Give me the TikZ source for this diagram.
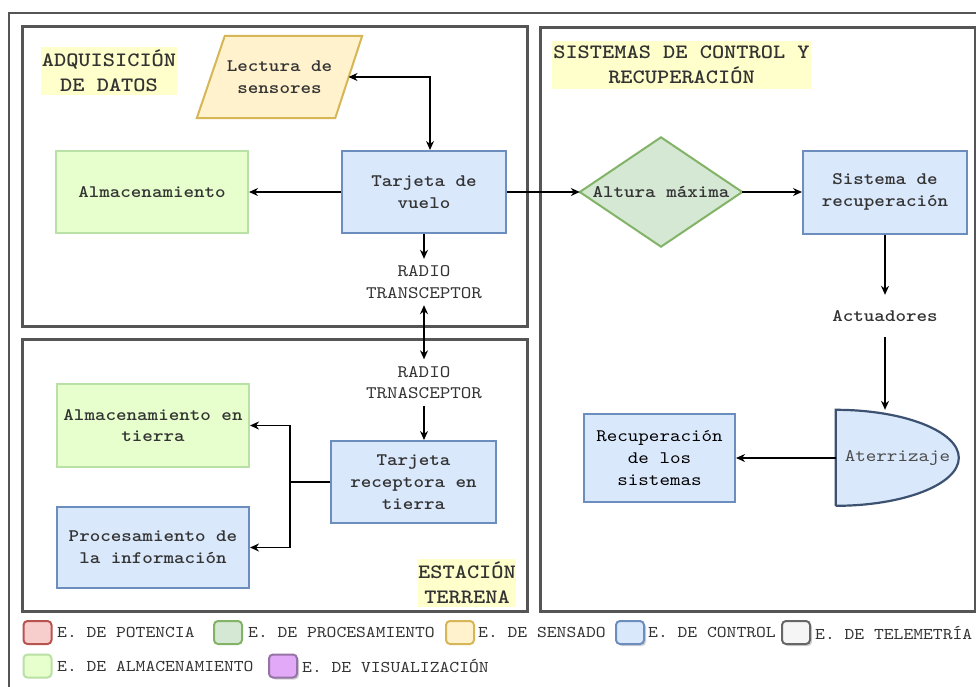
\documentclass[tikz,border=0pt]{standalone}
\usepackage{fontspec}
\newfontfamily\cour[FakeStretch=1.14,BoldFont=lmmonolt10-bold.otf]{lmmono10-regular.otf}
\usetikzlibrary{arrows.meta,shadows}
\definecolor{txt}{HTML}{333333}
\definecolor{framec}{HTML}{555555}
\definecolor{hl}{HTML}{FFFFCC}
\definecolor{bluef}{HTML}{DAE8FC}\definecolor{blued}{HTML}{6C8EBF}
\definecolor{yelf}{HTML}{FFF2CC}\definecolor{yeld}{HTML}{D6B656}
\definecolor{grnf}{HTML}{D5E8D4}\definecolor{grnd}{HTML}{82B366}
\definecolor{lgrf}{HTML}{E6FFCC}\definecolor{lgrd}{HTML}{B9E0A5}
\definecolor{redf}{HTML}{F8CECC}\definecolor{redd}{HTML}{B85450}
\definecolor{purf}{HTML}{E1A9F7}\definecolor{purd}{HTML}{9673A6}
\definecolor{gryf}{HTML}{F5F5F5}\definecolor{gryd}{HTML}{666666}
\definecolor{dkblue}{HTML}{3C5270}
\begin{document}
\begin{tikzpicture}[x=1pt,y=-1pt,
  frame/.style={draw=framec,line width=3pt},
  boxtxt/.style={align=center,inner sep=0pt,text=txt,font=\cour\bfseries\fontsize{17.6}{21.7}\selectfont},
  box/.style={boxtxt,draw,line width=2pt},
  bluebox/.style={box,draw=blued,fill=bluef},
  lgrbox/.style={box,draw=lgrd,fill=lgrf},
  titlebox/.style={fill=hl,align=center,inner sep=0pt,text=txt,font=\cour\bfseries\fontsize{20.4}{25}\selectfont},
  lbl/.style={align=center,inner sep=0pt,text=txt,font=\cour\fontsize{17.6}{21.7}\selectfont},
  arr/.style={-{Stealth[length=9pt,width=8pt]},line width=1.3pt,black},
  darr/.style={{Stealth[length=9pt,width=8pt]}-{Stealth[length=9pt,width=8pt]},line width=1.3pt,black},
  legsq/.style={draw,line width=2pt,rounded corners=4pt,minimum width=28pt,minimum height=23pt,inner sep=0pt},
  legshadow/.style={drop shadow={shadow xshift=2pt,shadow yshift=-2pt,fill=black!35}},
  legtx/.style={anchor=west,inner sep=0pt,text=txt,font=\cour\fontsize{16.4}{20}\selectfont}
]
\clip (0,0) rectangle (976,686);
\fill[white] (0,0) rectangle (976,686);

% frames
\draw[framec,line width=2.5pt] (9,720) -- (9,13) -- (1000,13);
\draw[frame] (22,26) rectangle (527,326);
\draw[frame] (22,339) rectangle (527,611);
\draw[frame] (540,27) rectangle (975,611);

% titles
\node[titlebox,minimum width=136pt,minimum height=48pt] (tA) at (109,71) {ADQUISICIÓN\\DE DATOS};
\node[titlebox,minimum width=259pt,minimum height=48pt] (tS) at (681.5,65) {SISTEMAS DE CONTROL Y\\RECUPERACIÓN};
\node[titlebox,minimum width=98pt,minimum height=48pt] (tE) at (467,583) {ESTACIÓN\\TERRENA};

% Adquisicion de datos
\node[inner sep=0pt,minimum width=165pt,minimum height=82pt] (lec) at (279.5,77) {};
\draw[draw=yeld,fill=yelf,line width=2pt] ([xshift=28pt]lec.north west) -- (lec.north east)
  -- ([xshift=-27pt]lec.south east) -- (lec.south west) -- cycle;
\node[boxtxt] at (lec) {Lectura de\\sensores};
\coordinate (lecR) at (348.5,77);

\node[bluebox,minimum width=164pt,minimum height=82pt] (tv) at (424,192) {Tarjeta de\\vuelo};
\node[lgrbox,minimum width=192pt,minimum height=82pt] (alm) at (152,192) {Almacenamiento};
\node[lbl,minimum height=46pt] (rad1) at (424,282) {RADIO\\TRANSCEPTOR};

% Sistemas de control
\node[inner sep=0pt,minimum width=162pt,minimum height=109pt] (alt) at (661,192) {};
\draw[draw=grnd,fill=grnf,line width=2pt] (alt.west) -- (alt.north) -- (alt.east) -- (alt.south) -- cycle;
\node[boxtxt] at (alt) {Altura máxima};

\node[bluebox,minimum width=164pt,minimum height=83pt] (rec) at (885,192) {Sistema de\\recuperación};
\node[lbl,font=\cour\bfseries\fontsize{17.6}{21.7}\selectfont,minimum height=42pt] (act) at (885,316) {Actuadores};

\node[inner sep=0pt,minimum width=123pt,minimum height=96pt] (ate) at (897.5,458) {};
\draw[draw=dkblue,fill=bluef,line width=2.2pt] (ate.south west) -- (ate.north west)
  arc[start angle=90,end angle=-90,x radius=123pt,y radius=48pt] -- cycle;
\node[lbl,text=black!70] at (ate) {Aterrizaje};

\node[box,font=\cour\fontsize{17.6}{21.7}\selectfont,text=black,draw=blued,fill=bluef,minimum width=151pt,minimum height=88pt] (sis) at (659.5,458) {Recuperación\\de los\\sistemas};

% Estacion terrena
\node[lbl,minimum height=46pt] (rad2) at (424,382.5) {RADIO\\TRNASCEPTOR};
\node[bluebox,minimum width=165pt,minimum height=82pt] (trec) at (413.5,482) {Tarjeta\\receptora en\\tierra};
\node[lgrbox,minimum width=192pt,minimum height=83pt] (almt) at (153,425.5) {Almacenamiento en\\tierra};
\node[bluebox,minimum width=192pt,minimum height=81pt] (proc) at (153,547.5) {Procesamiento de\\la información};
\coordinate (j) at (290,482);

% connectors
\draw[darr] (lecR) -| ([xshift=6pt]tv.north);
\draw[arr] (tv.west) -- (alm.east);
\draw[arr] (tv.east) -- (alt.west);
\draw[arr] (tv.south) -- (rad1.north);
\draw[darr] (rad1.south) -- (rad2.north);
\draw[arr] (rad2.south) -- (rad2.south |- trec.north);
\draw[line width=1.3pt] (trec.west) -- (j);
\draw[arr] (j) |- (almt.east);
\draw[arr] (j) |- (proc.east);
\draw[arr] (alt.east) -- (rec.west);
\draw[arr] (rec.south) -- (act.north);
\draw[arr] (act.south) -- (act.south |- ate.north);
\draw[arr] (ate.west) -- (sis.east);

% legend
\node[legsq,draw=redd,fill=redf] (l1) at (37.5,632.5) {};
\node[legtx] (t1) at (57,632.5) {E. DE POTENCIA};
\node[legsq,draw=grnd,fill=grnf] (l2) at (228,632.5) {};
\node[legtx] (t2) at (248,632.5) {E. DE PROCESAMIENTO};
\node[legsq,draw=yeld,fill=yelf] (l3) at (460,632.5) {};
\node[legtx] (t3) at (478,632.5) {E. DE SENSADO};
\node[legsq,legshadow,draw=blued,fill=bluef] (l4) at (630,632.5) {};
\node[legtx] (t4) at (648,632.5) {E. DE CONTROL};
\node[legsq,legshadow,draw=gryd,fill=gryf] (l5) at (796,632.5) {};
\node[legtx] (t5) at (815,632.5) {E. DE TELEMETRÍA};
\node[legsq,draw=lgrd,fill=lgrf] (l6) at (37.5,666) {};
\node[legtx] (t6) at (57,666) {E. DE ALMACENAMIENTO};
\node[legsq,legshadow,draw=purd,fill=purf] (l7) at (283,666) {};
\node[legtx] (t7) at (302,666) {E. DE VISUALIZACIÓN};
\end{tikzpicture}
\end{document}
